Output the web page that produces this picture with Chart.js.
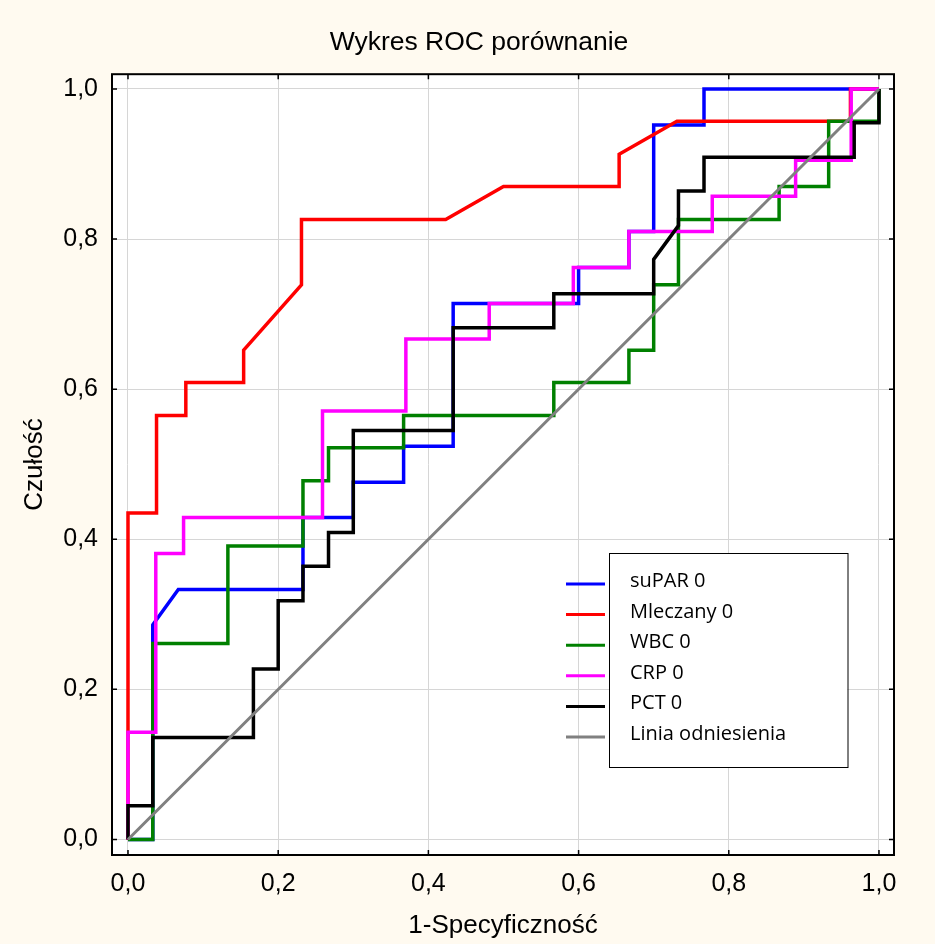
<!DOCTYPE html>
<html>
<head>
<meta charset="utf-8">
<title>Wykres ROC porównanie</title>
<script src="https://cdn.jsdelivr.net/npm/chart.js@4"></script>
<style>
  html, body { margin: 0; padding: 0; background: #fffaf0; }
</style>
</head>
<body>
<canvas id="rocChart" width="935" height="944"></canvas>
<script>
// tick values / labels
const xTickValues = [0, 0.2, 0.4, 0.6, 0.8, 1.0];
const yTickValues = [0, 0.2, 0.4, 0.6, 0.8, 1.0];
const xTickLabels = ["0,0", "0,2", "0,4", "0,6", "0,8", "1,0"];
const yTickLabels = ["0,0", "0,2", "0,4", "0,6", "0,8", "1,0"];

const seriesNames = ["suPAR 0", "Mleczany 0", "WBC 0", "CRP 0", "PCT 0", "Linia odniesienia"];
const seriesColors = ["#0000ff", "#ff0000", "#008000", "#ff00ff", "#000000", "#808080"];

// ROC points (1-specyficzność, czułość)
const suparX = [0, 0.033, 0.033, 0.067, 0.233, 0.233, 0.300, 0.300, 0.367, 0.367, 0.433, 0.433, 0.600, 0.600, 0.667, 0.667, 0.700, 0.700, 0.767, 0.767, 1.0];
const suparY = [0, 0, 0.286, 0.333, 0.333, 0.429, 0.429, 0.476, 0.476, 0.524, 0.524, 0.714, 0.714, 0.762, 0.762, 0.810, 0.810, 0.952, 0.952, 1.0, 1.0];

const mleczanyX = [0, 0, 0.038, 0.038, 0.077, 0.077, 0.154, 0.154, 0.231, 0.231, 0.423, 0.500, 0.654, 0.654, 0.731, 0.962, 0.962, 1.0];
const mleczanyY = [0, 0.435, 0.435, 0.565, 0.565, 0.609, 0.609, 0.652, 0.739, 0.826, 0.826, 0.870, 0.870, 0.913, 0.957, 0.957, 1.0, 1.0];

const wbcX = [0, 0.033, 0.033, 0.133, 0.133, 0.233, 0.233, 0.267, 0.267, 0.367, 0.367, 0.567, 0.567, 0.667, 0.667, 0.700, 0.700, 0.733, 0.733, 0.867, 0.867, 0.933, 0.933, 1.0, 1.0];
const wbcY = [0, 0, 0.261, 0.261, 0.391, 0.391, 0.478, 0.478, 0.522, 0.522, 0.565, 0.565, 0.609, 0.609, 0.652, 0.652, 0.739, 0.739, 0.826, 0.826, 0.870, 0.870, 0.957, 0.957, 1.0];

const crpX = [0, 0, 0.037, 0.037, 0.074, 0.074, 0.259, 0.259, 0.370, 0.370, 0.481, 0.481, 0.593, 0.593, 0.667, 0.667, 0.778, 0.778, 0.889, 0.889, 0.963, 0.963, 1.0];
const crpY = [0, 0.143, 0.143, 0.381, 0.381, 0.429, 0.429, 0.571, 0.571, 0.667, 0.667, 0.714, 0.714, 0.762, 0.762, 0.810, 0.810, 0.857, 0.857, 0.905, 0.905, 1.0, 1.0];

const pctX = [0, 0, 0.033, 0.033, 0.167, 0.167, 0.200, 0.200, 0.233, 0.233, 0.267, 0.267, 0.300, 0.300, 0.433, 0.433, 0.567, 0.567, 0.700, 0.700, 0.733, 0.733, 0.767, 0.767, 0.967, 0.967, 1.0, 1.0];
const pctY = [0, 0.045, 0.045, 0.136, 0.136, 0.227, 0.227, 0.318, 0.318, 0.364, 0.364, 0.409, 0.409, 0.545, 0.545, 0.682, 0.682, 0.727, 0.727, 0.773, 0.818, 0.864, 0.864, 0.909, 0.909, 0.955, 0.955, 1.0];

const refX = [0, 1];
const refY = [0, 1];

const allX = [suparX, mleczanyX, wbcX, crpX, pctX, refX];
const allY = [suparY, mleczanyY, wbcY, crpY, pctY, refY];

const datasets = seriesNames.map((name, i) => ({
  label: name,
  data: allX[i].map((x, j) => ({ x: x, y: allY[i][j] })),
  showLine: true,
  borderColor: seriesColors[i],
  backgroundColor: seriesColors[i],
  borderWidth: i === 5 ? 3 : 3.5,
  borderJoinStyle: "miter",
  borderCapStyle: "butt",
  pointRadius: 0,
  tension: 0,
  order: seriesNames.length - i, // reference line on top
}));

// background, frame with inner ticks, and the boxed legend
const rocDecor = {
  id: "rocDecor",
  beforeDraw(chart) {
    const { ctx, chartArea: a } = chart;
    ctx.save();
    ctx.fillStyle = "#fffaf0";
    ctx.fillRect(0, 0, chart.width, chart.height);
    ctx.fillStyle = "#ffffff";
    ctx.fillRect(a.left, a.top, a.right - a.left, a.bottom - a.top);
    ctx.restore();
  },
  afterDraw(chart) {
    const { ctx, chartArea: a, scales } = chart;
    ctx.save();
    ctx.strokeStyle = "#000";
    ctx.lineWidth = 1.5;
    ctx.beginPath();
    xTickValues.forEach((v) => {
      const px = scales.x.getPixelForValue(v);
      ctx.moveTo(px, a.top);
      ctx.lineTo(px, a.top + 5);
      ctx.moveTo(px, a.bottom);
      ctx.lineTo(px, a.bottom - 5);
    });
    yTickValues.forEach((v) => {
      const py = scales.y.getPixelForValue(v);
      ctx.moveTo(a.left, py);
      ctx.lineTo(a.left + 5, py);
      ctx.moveTo(a.right, py);
      ctx.lineTo(a.right - 5, py);
    });
    ctx.stroke();
    ctx.lineWidth = 2;
    ctx.strokeRect(a.left, a.top, a.right - a.left, a.bottom - a.top);

    // legend
    const left = a.right - 285;
    const top = a.bottom - 302;
    const w = 238.5;
    const h = 214;
    ctx.fillStyle = "#ffffff";
    ctx.fillRect(left, top, w, h);
    ctx.lineWidth = 1;
    ctx.strokeStyle = "#000";
    ctx.strokeRect(left + 0.5, top + 0.5, w, h);
    ctx.font = '20px "Open Sans"';
    ctx.textBaseline = "alphabetic";
    ctx.textAlign = "left";
    chart.data.datasets.forEach((ds, i) => {
      const rowY = top + 31 + i * 30.6;
      ctx.strokeStyle = ds.borderColor;
      ctx.lineWidth = 3;
      ctx.beginPath();
      ctx.moveTo(left - 43, rowY);
      ctx.lineTo(left - 4, rowY);
      ctx.stroke();
      ctx.fillStyle = "#000";
      ctx.fillText(ds.label, left + 21, rowY + 3);
    });
    ctx.restore();
  },
};

const axisFont = { family: '"Liberation Sans", Arial, sans-serif', size: 25 };

new Chart(document.getElementById("rocChart"), {
  type: "scatter",
  data: { datasets: datasets },
  options: {
    responsive: false,
    animation: false,
    layout: { padding: { left: 23, right: 0, top: 0, bottom: 0 } },
    plugins: {
      legend: { display: false },
      tooltip: { enabled: false },
      title: {
        display: true,
        text: "Wykres ROC porównanie",
        color: "#000",
        font: { family: '"Liberation Sans", Arial, sans-serif', size: 26.5, weight: "normal", lineHeight: 1.2 },
        padding: { top: 27, bottom: 15.4 },
      },
    },
    scales: {
      x: {
        type: "linear",
        min: -0.0213,
        max: 1.02,
        afterBuildTicks: (s) => { s.ticks = xTickValues.map((v) => ({ value: v })); },
        afterFit: (s) => { s.height = 89; },
        ticks: {
          padding: 14,
          color: "#000",
          font: axisFont,
          maxRotation: 0,
          callback: (v, i) => xTickLabels[i],
        },
        grid: { color: "#d6d6d6", lineWidth: 1, drawTicks: false },
        border: { display: false },
        title: {
          display: true,
          text: "1-Specyficzność",
          color: "#000",
          font: { family: '"Liberation Sans", Arial, sans-serif', size: 26, lineHeight: 1.2 },
          padding: { top: 0, bottom: 3 },
        },
      },
      y: {
        type: "linear",
        min: -0.0207,
        max: 1.0197,
        afterBuildTicks: (s) => { s.ticks = yTickValues.map((v) => ({ value: v })); },
        afterFit: (s) => { s.width = 89; },
        ticks: {
          padding: 14,
          color: "#000",
          font: axisFont,
          callback: (v, i) => yTickLabels[i],
        },
        grid: { color: "#d6d6d6", lineWidth: 1, drawTicks: false },
        border: { display: false },
        title: {
          display: true,
          text: "Czułość",
          color: "#000",
          font: { family: '"Liberation Sans", Arial, sans-serif', size: 26, lineHeight: 0.9 },
          padding: 0,
        },
      },
      // empty right-hand box, keeps the right margin of the frame
      yRight: {
        type: "linear",
        position: "right",
        display: true,
        ticks: { display: false },
        grid: { display: false },
        border: { display: false },
        afterFit: (s) => { s.width = 41; },
      },
    },
  },
  plugins: [rocDecor],
});
</script>
</body>
</html>
